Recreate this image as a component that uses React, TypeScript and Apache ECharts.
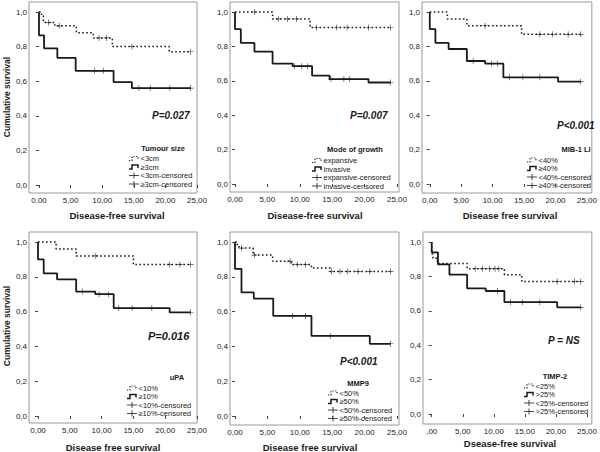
import React, { useEffect, useRef } from 'react';
import * as echarts from 'echarts';

// ---------- DATA ----------
const xTicks = [0, 5, 10, 15, 20, 25];
const yTicks = [0, 0.2, 0.4, 0.6, 0.8, 1.0];

// Panel 1: Tumour size
const tumourLtTime = [0, 0.4, 0.7, 2.5, 5.9, 8.6, 11.6, 20.6, 24];
const tumourLtSurv = [1, 0.98, 0.94, 0.92, 0.88, 0.85, 0.8, 0.77, 0.77];
const tumourLtCens = [1.5, 3.2, 9.5, 10.7, 14.7, 24];
const tumourGeTime = [0, 0, 0.8, 2.9, 5.8, 11.8, 14.7, 24];
const tumourGeSurv = [1, 0.865, 0.79, 0.735, 0.66, 0.595, 0.56, 0.56];
const tumourGeCens = [8.8, 10.2, 15.8, 17.6, 20.7, 24];
const tumourLabels = ['<3cm', '≥3cm', '<3cm-censored', '≥3cm-censored'];

// Panel 2: Mode of growth
const growthExpTime = [0, 5.8, 11.6, 24];
const growthExpSurv = [1, 0.96, 0.91, 0.91];
const growthExpCens = [3.0, 6.7, 8.1, 9.5, 12.6, 15.7, 17.3, 20.6, 24];
const growthInvTime = [0, 0, 0.9, 3.0, 5.8, 8.9, 11.9, 14.6, 20.6, 24];
const growthInvSurv = [1, 0.9, 0.82, 0.77, 0.7, 0.685, 0.63, 0.61, 0.59, 0.59];
const growthInvCens = [9.2, 10.3, 11.2, 14.8, 16.8, 17.7, 24];
const growthLabels = ['expansive', 'invasive', 'expansive-censored', 'invasive-censored'];

// Panel 3: MIB-1 LI
const mibLtTime = [0, 2.8, 5.9, 14.6, 24];
const mibLtSurv = [1, 0.96, 0.92, 0.87, 0.87];
const mibLtCens = [8.8, 17.5, 19.5, 22, 24];
const mibGeTime = [0, 0, 0.9, 3.0, 5.9, 8.8, 11.7, 20.4, 24];
const mibGeSurv = [1, 0.9, 0.82, 0.785, 0.715, 0.7, 0.62, 0.595, 0.595];
const mibGeCens = [6.9, 9.8, 10.8, 12.7, 14.8, 17.5, 24];
const mibLabels = ['<40%', '≥40%', '<40%-censored', '≥40%-censored'];

// Panel 4: uPA
const upaLtTime = [0, 2.85, 6.0, 15.0, 24];
const upaLtSurv = [1, 0.96, 0.92, 0.87, 0.87];
const upaLtCens = [9.0, 20.7, 22.3, 24];
const upaGeTime = [0, 0, 0.9, 3.0, 6.0, 9.0, 11.9, 20.7, 24];
const upaGeSurv = [1, 0.9, 0.82, 0.785, 0.715, 0.7, 0.62, 0.595, 0.595];
const upaGeCens = [7.0, 9.6, 11.1, 12.7, 14.8, 17.9, 24];
const upaLabels = ['<10%', '≥10%', '<10%-censored', '≥10%-censored'];

// Panel 5: MMP9
const mmpLtTime = [0, 0.2, 0.6, 2.8, 5.8, 8.7, 11.8, 14.7, 24];
const mmpLtSurv = [1, 0.985, 0.965, 0.925, 0.89, 0.87, 0.85, 0.83, 0.83];
const mmpLtCens = [1.0, 3.0, 8.5, 9.6, 10.9, 14.9, 16.2, 17.4, 19.0, 20.8, 24];
const mmpGeTime = [0, 0, 1.0, 2.9, 5.9, 11.8, 20.8, 24];
const mmpGeSurv = [1, 0.845, 0.71, 0.675, 0.575, 0.46, 0.415, 0.415];
const mmpGeCens = [8.9, 10.9, 14.7, 24];
const mmpLabels = ['<50%', '≥50%', '<50%-censored', '≥50%-censored'];

// Panel 6: TIMP-2
const timpLtTime = [0, 0, 0.2, 0.9, 5.7, 11.7, 14.5, 24];
const timpLtSurv = [1, 0.93, 0.905, 0.875, 0.845, 0.81, 0.77, 0.77];
const timpLtCens = [7.0, 8.2, 9.3, 10.2, 10.8, 20.2, 23.0, 24];
const timpGtTime = [0, 0, 1.0, 2.85, 5.7, 8.7, 11.7, 20.2, 24];
const timpGtSurv = [1, 0.94, 0.87, 0.81, 0.73, 0.715, 0.65, 0.62, 0.62];
const timpGtCens = [10.6, 12.7, 14.6, 17.4, 24];
const timpLabels = ['<25%', '>25%', '<25%-censored', '>25%-censored'];

const titles = ['Tumour size', 'Mode of growth', 'MIB-1 LI', 'uPA', 'MMP9', 'TIMP-2'];
const pValues = ['P=0.027', 'P=0.007', 'P<0.001', 'P=0.016', 'P<0.001', 'P = NS'];
const xTitles = [
  'Disease-free survival',
  'Disease-free survival',
  'Disease free survival',
  'Disease free survival',
  'Disease free survival',
  'Dsease-free survival',
];
const yTitle = 'Cumulative survival';

// ---------- LAYOUT ----------
const FONT = '"Liberation Sans", Arial, sans-serif';
const INK = '#1a1a1a';
const ROW = 8.5;

type Panel = {
  box: [number, number, number, number];
  x0: number; x25: number; y1: number; y0: number;
  lt: [number[], number[], number[]];
  ge: [number[], number[], number[]];
  labels: string[];
  leg: { tx: number; ty: number; ix: number; row0: number };
  p: { x: number; y: number; size: number };
  xt: { x: number; y: number };
  zeroLabel: string;
};

const panels: Panel[] = [
  {
    box: [29, 2, 197, 193], x0: 39, x25: 197, y1: 12, y0: 185,
    lt: [tumourLtTime, tumourLtSurv, tumourLtCens], ge: [tumourGeTime, tumourGeSurv, tumourGeCens],
    labels: tumourLabels,
    leg: { tx: 163, ty: 148, ix: 129, row0: 158.5 },
    p: { x: 152, y: 115, size: 10 }, xt: { x: 117, y: 215 }, zeroLabel: '0,00',
  },
  {
    box: [230, 2, 399, 192], x0: 235, x25: 397, y1: 12, y0: 184,
    lt: [growthExpTime, growthExpSurv, growthExpCens], ge: [growthInvTime, growthInvSurv, growthInvCens],
    labels: growthLabels,
    leg: { tx: 355, ty: 149, ix: 312, row0: 160.5 },
    p: { x: 350, y: 115, size: 10 }, xt: { x: 315, y: 215 }, zeroLabel: '0,00',
  },
  {
    box: [422, 2, 597, 193], x0: 430, x25: 592, y1: 12, y0: 184,
    lt: [mibLtTime, mibLtSurv, mibLtCens], ge: [mibGeTime, mibGeSurv, mibGeCens],
    labels: mibLabels,
    leg: { tx: 576, ty: 149, ix: 527, row0: 160 },
    p: { x: 557, y: 125, size: 10 }, xt: { x: 510, y: 215 }, zeroLabel: '0,00',
  },
  {
    box: [29, 232, 197, 423], x0: 38, x25: 197, y1: 242, y0: 416,
    lt: [upaLtTime, upaLtSurv, upaLtCens], ge: [upaGeTime, upaGeSurv, upaGeCens],
    labels: upaLabels,
    leg: { tx: 177, ty: 377, ix: 127, row0: 388 },
    p: { x: 148, y: 336, size: 11 }, xt: { x: 113, y: 447 }, zeroLabel: '0,00',
  },
  {
    box: [230, 232, 399, 425], x0: 235, x25: 397, y1: 242, y0: 416,
    lt: [mmpLtTime, mmpLtSurv, mmpLtCens], ge: [mmpGeTime, mmpGeSurv, mmpGeCens],
    labels: mmpLabels,
    leg: { tx: 358, ty: 383, ix: 328, row0: 393 },
    p: { x: 340, y: 361, size: 10 }, xt: { x: 310, y: 447 }, zeroLabel: '0,00',
  },
  {
    box: [423, 232, 597, 424], x0: 432, x25: 592, y1: 242, y0: 414,
    lt: [timpLtTime, timpLtSurv, timpLtCens], ge: [timpGtTime, timpGtSurv, timpGtCens],
    labels: timpLabels,
    leg: { tx: 555, ty: 376, ix: 524, row0: 386 },
    p: { x: 548, y: 340, size: 10 }, xt: { x: 510, y: 443 }, zeroLabel: ',00',
  },
];

const stepAt = (times: number[], surv: number[], t: number) => {
  let v = surv[0];
  for (let i = 0; i < times.length; i++) if (times[i] <= t) v = surv[i];
  return v;
};

const PLUS = 'path://M4,0h1v9h-1z M0,4h9v1h-9z';
const DOT_DASH = [1.6, 2.4];

function buildOption() {
  const grid: any[] = [];
  const xAxis: any[] = [];
  const yAxis: any[] = [];
  const series: any[] = [];
  const graphic: any[] = [];

  panels.forEach((p, i) => {
    const [l, t, r, b] = p.box;
    const pxX = (p.x25 - p.x0) / 25;
    const pxY = (p.y0 - p.y1) / 1;
    grid.push({
      left: l, top: t, width: r - l, height: b - t,
      show: true, borderColor: '#9a9a9a', borderWidth: 1, backgroundColor: '#fff',
    });
    xAxis.push({
      type: 'value', gridIndex: i,
      min: -(p.x0 - l) / pxX, max: 25 + (r - p.x25) / pxX,
      axisLine: { show: false },
      splitLine: { show: false },
      axisTick: { show: true, customValues: xTicks, length: 3, lineStyle: { color: '#444' } },
      axisLabel: {
        customValues: xTicks, margin: 3, fontSize: 8, fontFamily: FONT, color: INK,
        formatter: (v: number) => (v === 0 ? p.zeroLabel : v.toFixed(2).replace('.', ',')),
      },
    });
    yAxis.push({
      type: 'value', gridIndex: i,
      min: -(b - p.y0) / pxY, max: 1 + (p.y1 - t) / pxY,
      axisLine: { show: false },
      splitLine: { show: false },
      axisTick: { show: true, customValues: yTicks, length: 3, lineStyle: { color: '#444' } },
      axisLabel: {
        customValues: yTicks, margin: 2, fontSize: 8, fontFamily: FONT, color: INK,
        formatter: (v: number) => v.toFixed(1).replace('.', ','),
      },
    });

    const groups: [number[], number[], number[]][] = [p.lt, p.ge];
    groups.forEach(([times, surv, cens], g) => {
      series.push({
        type: 'line', xAxisIndex: i, yAxisIndex: i, step: 'end', showSymbol: false, silent: true,
        data: times.map((tt, k) => [tt, surv[k]]),
        lineStyle: g === 0
          ? { color: INK, width: 1.5, type: DOT_DASH }
          : { color: INK, width: 1.8 },
      });
      series.push({
        type: 'scatter', xAxisIndex: i, yAxisIndex: i, silent: true,
        symbol: PLUS, symbolSize: 6,
        itemStyle: { color: INK },
        data: cens.map((c) => [c, stepAt(times, surv, c)]),
      });
    });

    // P-value
    graphic.push({
      type: 'text', x: p.p.x, y: p.p.y,
      style: {
        text: pValues[i], fill: INK, fontFamily: FONT, fontSize: p.p.size,
        fontWeight: 'bold', fontStyle: 'italic', align: 'left', verticalAlign: 'middle',
      },
    });
    // legend title
    graphic.push({
      type: 'text', x: p.leg.tx, y: p.leg.ty,
      style: {
        text: titles[i], fill: INK, fontFamily: FONT, fontSize: 7.5, fontWeight: 'bold',
        align: 'center', verticalAlign: 'middle',
      },
    });
    const ix = p.leg.ix;
    p.labels.forEach((label, k) => {
      const ry = p.leg.row0 + k * ROW;
      if (k < 2) {
        graphic.push({
          type: 'polyline',
          shape: { points: [[ix, ry + 2], [ix + 3, ry + 2], [ix + 3, ry - 2], [ix + 9, ry - 2], [ix + 9, ry + 1]] },
          style: { stroke: INK, fill: null, lineWidth: k === 0 ? 1.2 : 1.5, lineDash: k === 0 ? [1.2, 1.6] : null },
        });
      } else {
        graphic.push({
          type: 'line', shape: { x1: ix, y1: ry, x2: ix + 10, y2: ry },
          style: { stroke: INK, lineWidth: 0.8 },
        });
        graphic.push({
          type: 'line', shape: { x1: ix + 5, y1: ry - 3, x2: ix + 5, y2: ry + 3 },
          style: { stroke: INK, lineWidth: 0.8 },
        });
      }
      graphic.push({
        type: 'text', x: ix + 11.5, y: ry,
        style: {
          text: label, fill: INK, fontFamily: FONT, fontSize: 7.5,
          align: 'left', verticalAlign: 'middle',
        },
      });
    });
    // x title
    graphic.push({
      type: 'text', x: p.xt.x, y: p.xt.y,
      style: {
        text: xTitles[i], fill: INK, fontFamily: FONT, fontSize: 9.5, fontWeight: 'bold',
        align: 'center', verticalAlign: 'middle',
      },
    });
  });

  // y titles
  [97, 326].forEach((cy) => {
    graphic.push({
      type: 'text', x: 7, y: cy, rotation: Math.PI / 2,
      style: {
        text: yTitle, fill: INK, fontFamily: FONT, fontSize: 8.5, fontWeight: 'bold',
        align: 'center', verticalAlign: 'middle',
      },
    });
  });

  return {
    animation: false,
    backgroundColor: '#fff',
    grid, xAxis, yAxis, series, graphic,
  };
}

export default function App() {
  const ref = useRef<HTMLDivElement>(null);
  useEffect(() => {
    const chart = echarts.init(ref.current!, null, { renderer: 'svg' });
    chart.setOption(buildOption() as any);
    return () => chart.dispose();
  }, []);
  return (
    <div
      ref={ref}
      style={{ position: 'absolute', left: 0, top: 0, width: 600, height: 452 }}
    />
  );
}
